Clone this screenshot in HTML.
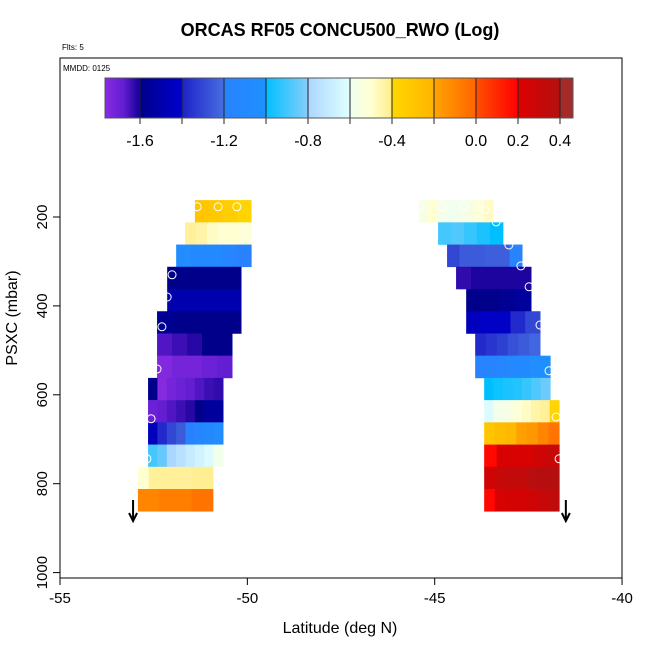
<!DOCTYPE html>
<html><head><meta charset="utf-8"><style>
body{margin:0;background:#fff;}
svg text{font-family:"Liberation Sans",Arial,sans-serif;}
</style></head><body>
<svg id="c" width="650" height="650" xmlns="http://www.w3.org/2000/svg">
<rect width="650" height="650" fill="#fff"/>
<text x="340" y="36" text-anchor="middle" font-size="18" font-weight="bold">ORCAS RF05 CONCU500_RWO (Log)</text>
<text x="62" y="50" font-size="8">Flts: 5</text>
<rect x="60" y="58" width="562" height="520" fill="none" stroke="#000"/>
<text x="63" y="71" font-size="8">MMDD: 0125</text>
<g id="cells"></g>
<g id="track"></g>
<g id="cbar"></g>
<g id="axes"></g>
<text x="340" y="633" text-anchor="middle" font-size="16">Latitude (deg N)</text>
<text transform="translate(17,318) rotate(-90)" text-anchor="middle" font-size="16">PSXC (mbar)</text>
</svg>
<script>
const xTicks=[-55,-50,-45,-40];
const yTicks=[200,400,600,800,1000];
const cbTicks=[-1.6,-1.2,-0.8,-0.4,0.0,0.2,0.4];
const cbBreaks=[-1.6,-1.4,-1.2,-1.0,-0.8,-0.6,-0.4,-0.2,0.0,0.2,0.4];
const rowTop=[162,212,262,312,362,412,462,512,562,612,662,712,762,812];
const leftStart=[-51.40,-51.66,-51.90,-52.14,-52.14,-52.41,-52.41,-52.41,-52.65,-52.65,-52.65,-52.65,-52.92,-52.92];
const leftEnd=[-49.90,-49.90,-49.90,-50.17,-50.17,-50.17,-50.41,-50.41,-50.65,-50.65,-50.65,-50.65,-50.92,-50.92];
const leftVals=[
[-0.3,-0.32,-0.35,-0.38],
[-0.42,-0.44,-0.48,-0.5,-0.5,-0.52],
[-1.05,-1.1,-1.1,-1.15,-1.2],
[-1.6,-1.6,-1.6,-1.6],
[-1.5,-1.5,-1.5,-1.5],
[-1.58,-1.6,-1.6,-1.6,-1.6],
[-1.66,-1.64,-1.62,-1.6,-1.6],
[-1.75,-1.72,-1.72,-1.7,-1.68],
[-1.6,-1.76,-1.72,-1.7,-1.68,-1.66,-1.64,-1.63],
[-1.7,-1.68,-1.66,-1.64,-1.62,-1.6,-1.55,-1.55],
[-1.45,-1.38,-1.3,-1.25,-1.2,-1.15,-1.12,-1.05],
[-0.9,-0.85,-0.8,-0.75,-0.7,-0.66,-0.62,-0.58],
[-0.5,-0.42,-0.42,-0.42,-0.42,-0.41,-0.41],
[-0.1,-0.1,-0.08,-0.08,-0.08,-0.05,-0.05]];
const rightStart=[-45.42,-44.91,-44.67,-44.43,-44.16,-44.16,-43.92,-43.92,-43.68,-43.68,-43.68,-43.68,-43.68,-43.68];
const rightEnd=[-43.44,-43.18,-42.67,-42.43,-42.43,-42.19,-42.19,-41.92,-41.92,-41.68,-41.68,-41.68,-41.68,-41.68];
const rightVals=[
[-0.56,-0.5,-0.58,-0.6,-0.58,-0.56,-0.52,-0.48],
[-0.9,-0.88,-0.92,-0.96,-1.0],
[-1.3,-1.25,-1.25,-1.24,-1.24,-1.18],
[-1.63,-1.61,-1.61,-1.61,-1.61],
[-1.6,-1.6,-1.58,-1.55],
[-1.45,-1.42,-1.42,-1.38,-1.3],
[-1.38,-1.35,-1.32,-1.28,-1.25,-1.22],
[-1.19,-1.17,-1.15,-1.12,-1.1,-1.05,-1.02],
[-1.0,-0.98,-0.96,-0.95,-0.92,-0.88,-0.84],
[-0.62,-0.58,-0.56,-0.52,-0.48,-0.44,-0.42,-0.38],
[-0.3,-0.25,-0.22,-0.18,-0.16,-0.1,-0.05],
[0.18,0.22,0.22,0.22,0.26,0.3],
[0.26,0.3,0.32,0.32,0.36,0.38,0.39],
[0.18,0.22,0.24,0.24,0.26,0.3,0.34]];
const trackLat=[-51.34,-50.78,-50.28,-52.01,-52.14,-52.28,-52.41,-52.57,-52.68,-45.39,-44.81,-44.22,-43.66,-43.36,-43.02,-42.70,-42.48,-42.19,-41.95,-41.76,-41.68];
const trackP=[177,177,177,330,380,447,542,654,744,177,177,177,184,211,263,310,357,443,546,650,744];
const arrowLat=[-53.05,-41.5];

const NS='http://www.w3.org/2000/svg';
const X=l=>60+(l+55)*37.47;
const Y=p=>217+(p-200)*0.4445;
const CB=v=>140+(v+1.6)*210;
const stops=[[-1.77,[138,43,226]],[-1.68,[100,30,210]],[-1.6,[20,0,150]],[-1.6,[0,0,139]],[-1.4,[0,0,205]],[-1.4,[30,34,200]],[-1.2,[70,110,225]],[-1.2,[40,130,255]],[-1.0,[30,144,255]],[-1.0,[0,191,255]],[-0.8,[135,206,250]],[-0.8,[170,215,255]],[-0.6,[224,255,255]],[-0.6,[240,255,240]],[-0.5,[255,255,210]],[-0.4,[255,236,139]],[-0.4,[255,215,0]],[-0.2,[255,180,0]],[-0.2,[255,165,0]],[0.0,[255,100,0]],[0.0,[255,80,0]],[0.2,[255,0,0]],[0.2,[220,0,0]],[0.4,[178,16,16]],[0.4,[165,42,42]],[0.47,[165,42,42]]];
function col(v){
  if(v<=stops[0][0])return 'rgb('+stops[0][1]+')';
  for(let i=0;i<stops.length-1;i++){const a=stops[i],b=stops[i+1];
    if(v>=a[0]&&v<b[0]){const t=(v-a[0])/(b[0]-a[0]);return 'rgb('+a[1].map((c,k)=>Math.round(c+(b[1][k]-c)*t)).join(',')+')';}}
  return 'rgb('+stops[stops.length-1][1]+')';
}
function mk(tag,attrs,parent){const e=document.createElementNS(NS,tag);for(const k in attrs)e.setAttribute(k,attrs[k]);parent.appendChild(e);return e;}
const cells=document.getElementById('cells');
function drawSide(st,en,vals,side){
  vals.forEach((row,i)=>{const x0=X(st[i]),x1=X(en[i]),w=(x1-x0)/row.length;
    row.forEach((v,j)=>{const r=mk('rect',{x:x0+j*w,y:Y(rowTop[i]),width:w+0.5,height:Y(rowTop[i]+50)-Y(rowTop[i])+0.3,fill:col(v)},cells);
      
      });});
}
drawSide(leftStart,leftEnd,leftVals,'left');
drawSide(rightStart,rightEnd,rightVals,'right');
const track=document.getElementById('track');
trackLat.forEach((l,i)=>{const c=mk('circle',{cx:X(l),cy:Y(trackP[i]),r:4,fill:'none',stroke:'#fff','stroke-width':1},track);
  
  });
arrowLat.forEach(l=>{const g=mk('g',{},track);
  
  
  const x=X(l);mk('line',{x1:x,y1:500,x2:x,y2:520,stroke:'#000','stroke-width':2},g);
  mk('polyline',{points:(x-4)+',513 '+x+',521 '+(x+4)+',513',fill:'none',stroke:'#000','stroke-width':2},g);});
const cb=document.getElementById('cbar');
for(let px=105;px<573;px++){const v=-1.6+(px+0.5-140)/210;mk('rect',{x:px,y:78,width:1.2,height:40,fill:col(v)},cb);}
cbBreaks.forEach(b=>{const x=CB(b);mk('line',{x1:x,y1:78,x2:x,y2:124,stroke:'#222','stroke-width':1},cb);});
mk('rect',{x:105,y:78,width:468,height:40,fill:'none',stroke:'#555'},cb);
cbTicks.forEach(t=>{const tx=mk('text',{x:CB(t),y:146,'text-anchor':'middle','font-size':16},cb);tx.textContent=t.toFixed(1);
  
  });
const ax=document.getElementById('axes');
xTicks.forEach(t=>{const x=X(t);mk('line',{x1:x,y1:578,x2:x,y2:585,stroke:'#000'},ax);
  const tx=mk('text',{x:x,y:603,'text-anchor':'middle','font-size':15},ax);tx.textContent=t;
  
  });
yTicks.forEach(t=>{const y=Y(t);mk('line',{x1:53,y1:y,x2:60,y2:y,stroke:'#000'},ax);
  const tx=mk('text',{transform:'translate(47,'+y+') rotate(-90)','text-anchor':'middle','font-size':15},ax);tx.textContent=t;
  
  });
</script>
</body></html>
